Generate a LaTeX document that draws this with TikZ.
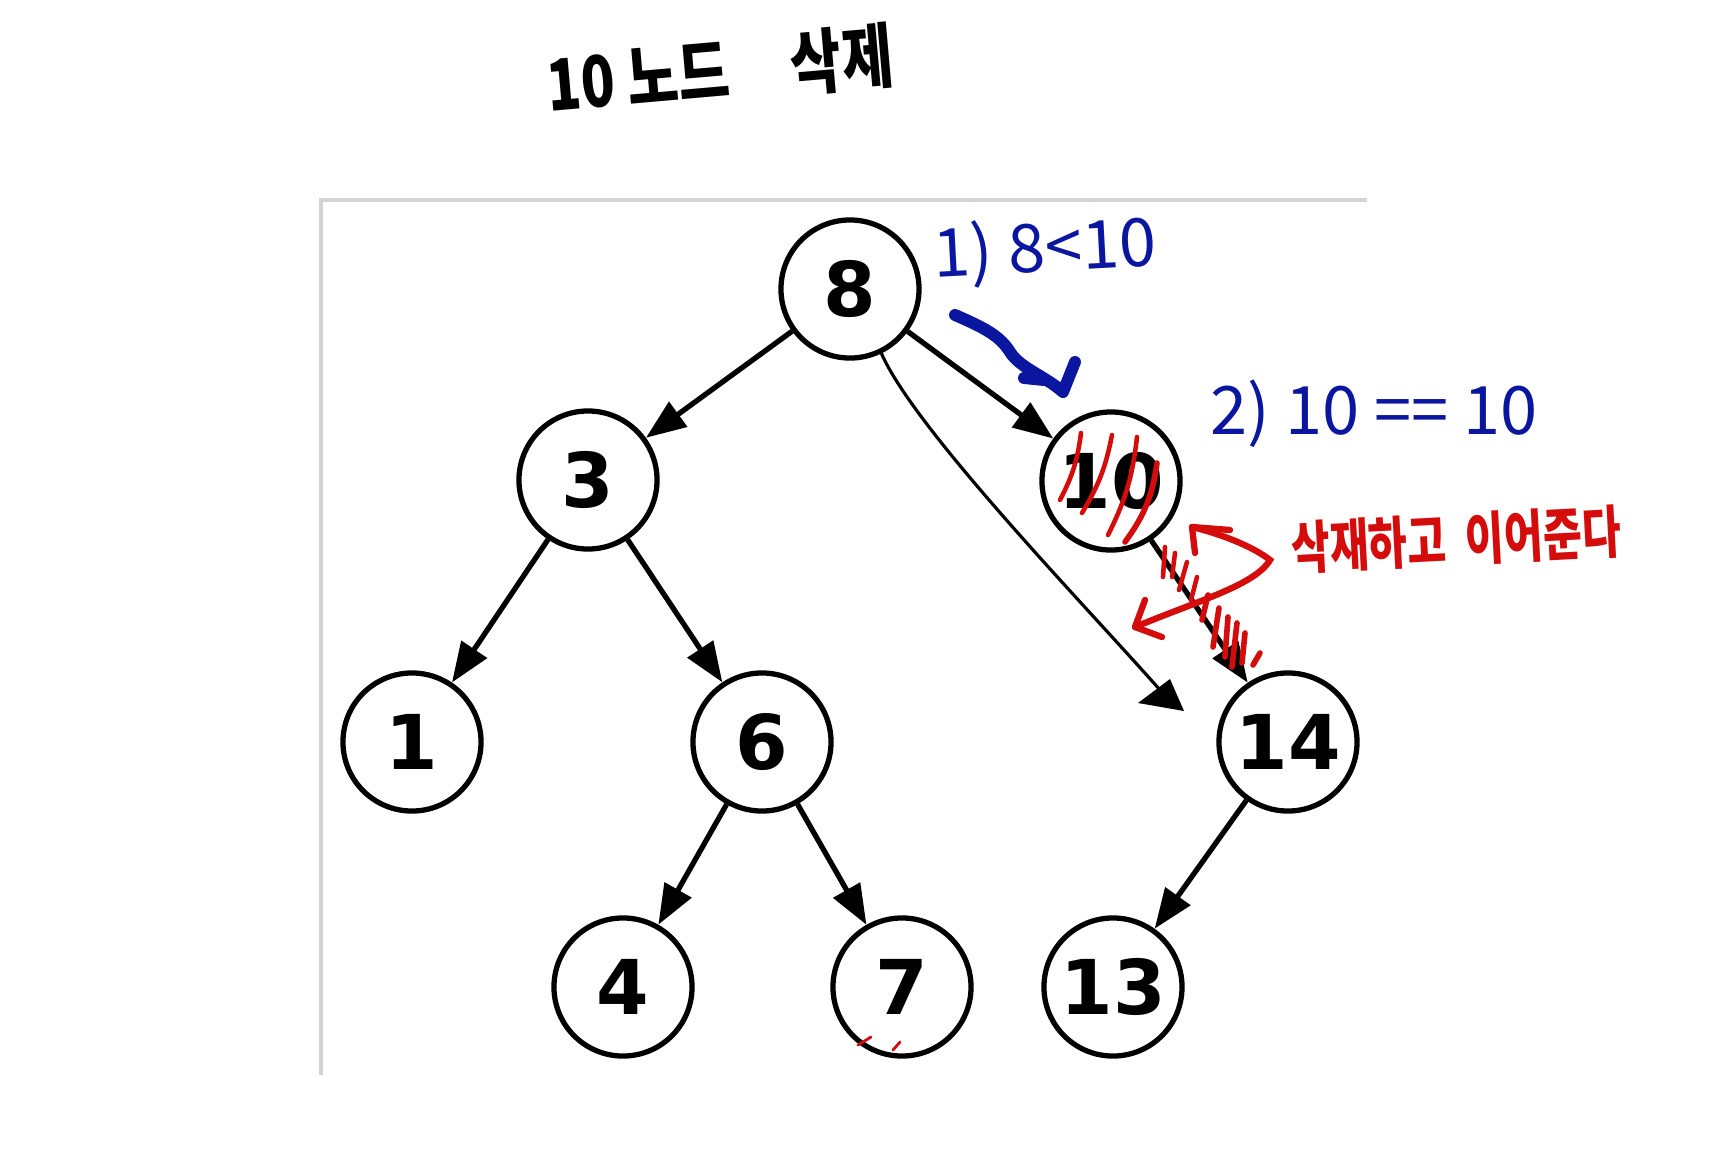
\documentclass[tikz,border=0pt]{standalone}
\usepackage{fontspec}
\setmainfont{DejaVu Sans}
\newfontfamily\kor{Noto Sans CJK KR}
\usetikzlibrary{calc,arrows.meta}
\definecolor{penblue}{HTML}{0A16A0}
\definecolor{penred}{HTML}{D40C0C}

\begin{document}
\begin{tikzpicture}[x=0.01cm,y=-0.01cm,
  key/.style={draw,circle,line width=1.5pt,minimum size=1.38cm,inner sep=0pt,font=\fontsize{21.5}{22}\selectfont\bfseries},
  edge/.style={line width=1.5pt,-{Triangle[length=0.4cm,width=0.3cm]}},
  redpen/.style={penred,line width=1.3pt,line cap=round}]
\useasboundingbox (0,0) rectangle (1729,1169);
\draw[gray!35,line width=1.2pt] (321,1075) -- (321,200) -- (1367,200);
\node[key] (n8) at (850,289) {8};
\node[key] (n3) at (588,480) {3};
\node[key] (n10) at (1111,481) {10};
\node[key] (n1) at (412,742) {1};
\node[key] (n6) at (762,742) {6};
\node[key] (n14) at (1288,742) {14};
\node[key] (n4) at (623,987) {4};
\node[key] (n7) at (902,987) {7};
\node[key] (n13) at (1113,987) {13};
\draw[edge] (n8) -- (n3);
\draw[edge] (n8) -- (n10);
\draw[edge] (n3) -- (n1);
\draw[edge] (n3) -- (n6);
\draw[edge] (n6) -- (n4);
\draw[edge] (n6) -- (n7);
\draw[edge] (n10) -- (n14);
\draw[edge] (n14) -- (n13);
\node[font=\kor\bfseries\fontsize{18}{18}\selectfont,rotate=5] (title) at (720,70) {\scalebox{0.88}[1.12]{10 노드\hspace{1.1em}삭제}};
\node[penblue,font=\kor\fontsize{19}{19}\selectfont,rotate=3] (step1) at (1045,251) {1) 8<10};
\node[penblue,font=\kor\fontsize{19}{19}\selectfont] (step2) at (1374,414) {2) 10 == 10};
\node[penred,font=\kor\bfseries\fontsize{12}{12}\selectfont,rotate=3] (note) at (1456,540) {\scalebox{1}[1.35]{삭재하고\ \ 이어준다}};
\coordinate (hop) at (1160,690);
\draw[line width=0.9pt] (n8.-64) .. controls (915,430) and (1085,605) .. (hop);
\fill[line join=round] (1138,703) -- (1170,679) -- (1184,711) -- cycle;
\draw[penblue,line width=3.4pt,line cap=round,line join=round] (955,315) .. controls (985,328) and (1000,336) .. (1010,352) .. controls (1020,368) and (1045,376) .. (1063,392) -- (1075,362);
\draw[penblue,line width=3.4pt,line cap=round] (1024,378) -- (1044,380);
\draw[redpen] (1081,433) to[bend left=10] (1060,500);
\draw[redpen] (1112,435) to[bend left=10] (1082,513);
\draw[redpen] (1137,437) to[bend left=10] (1108,535);
\draw[redpen,line width=1.6pt] (1157,463) to[bend left=14] (1125,542);
\foreach \ax/\ay/\bx/\by in {1165/547/1163/577,1175/553/1172/577,1187/562/1179/590,1197/577/1191/600}
  \draw[redpen] (\ax,\ay) -- (\bx,\by);
\foreach \ax/\ay/\bx/\by in {1208/595/1202/620,1219/608/1213/647,1228/617/1225/657,1237/623/1232/667,1245/633/1242/663,1260/653/1253/665}
  \draw[redpen,line width=1.6pt] (\ax,\ay) -- (\bx,\by);
\draw[redpen,line width=1.8pt,line join=round] (1230,530) -- (1192,527) -- (1195,553);
\draw[redpen,line width=1.8pt] (1192,527) .. controls (1225,535) and (1255,548) .. (1270,560) .. controls (1255,585) and (1200,600) .. (1135,627);
\draw[redpen,line width=1.8pt,line join=round] (1145,600) -- (1135,627) -- (1162,637);
\draw[redpen,line width=0.8pt] (858,1045) -- (871,1037);
\draw[redpen,line width=0.8pt] (893,1050) -- (900,1042);
\end{tikzpicture}
\end{document}
